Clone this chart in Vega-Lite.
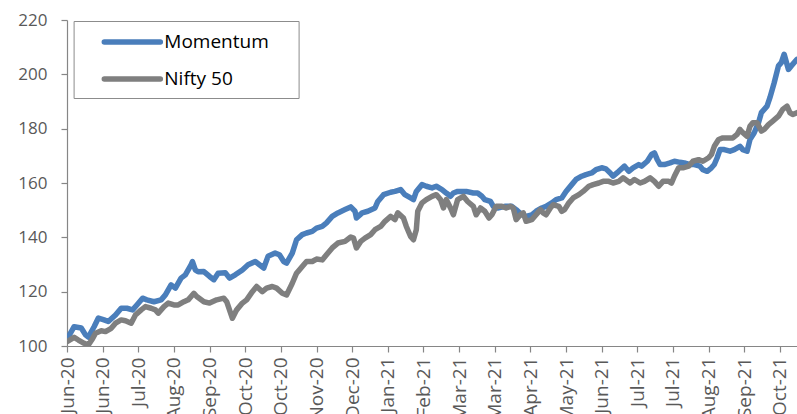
{
  "$schema": "https://vega.github.io/schema/vega-lite/v6.json",
  "width": 730,
  "height": 326,
  "autosize": {"type": "none"},
  "padding": {"left": 67, "top": 20, "right": 0, "bottom": 68},
  "background": "white",
  "config": {"view": {"stroke": null}, "font": "Open Sans"},
  "data": {"values": [
    {"series":"Momentum","date":"2020-06-01","value":102.5},
    {"series":"Momentum","date":"2020-06-06","value":107.1},
    {"series":"Momentum","date":"2020-06-11","value":106.6},
    {"series":"Momentum","date":"2020-06-14","value":104.1},
    {"series":"Momentum","date":"2020-06-16","value":103.3},
    {"series":"Momentum","date":"2020-06-20","value":107.1},
    {"series":"Momentum","date":"2020-06-23","value":110.3},
    {"series":"Momentum","date":"2020-06-27","value":109.6},
    {"series":"Momentum","date":"2020-06-30","value":109.0},
    {"series":"Momentum","date":"2020-07-05","value":111.4},
    {"series":"Momentum","date":"2020-07-09","value":113.9},
    {"series":"Momentum","date":"2020-07-13","value":113.9},
    {"series":"Momentum","date":"2020-07-17","value":113.3},
    {"series":"Momentum","date":"2020-07-20","value":115.1},
    {"series":"Momentum","date":"2020-07-24","value":117.6},
    {"series":"Momentum","date":"2020-07-27","value":117.0},
    {"series":"Momentum","date":"2020-08-01","value":116.3},
    {"series":"Momentum","date":"2020-08-06","value":117.0},
    {"series":"Momentum","date":"2020-08-09","value":118.8},
    {"series":"Momentum","date":"2020-08-13","value":122.5},
    {"series":"Momentum","date":"2020-08-16","value":121.3},
    {"series":"Momentum","date":"2020-08-20","value":125.0},
    {"series":"Momentum","date":"2020-08-23","value":126.2},
    {"series":"Momentum","date":"2020-08-27","value":129.9},
    {"series":"Momentum","date":"2020-08-28","value":131.1},
    {"series":"Momentum","date":"2020-08-30","value":128.0},
    {"series":"Momentum","date":"2020-09-01","value":127.3},
    {"series":"Momentum","date":"2020-09-05","value":127.4},
    {"series":"Momentum","date":"2020-09-09","value":125.6},
    {"series":"Momentum","date":"2020-09-12","value":124.4},
    {"series":"Momentum","date":"2020-09-15","value":126.8},
    {"series":"Momentum","date":"2020-09-20","value":127.0},
    {"series":"Momentum","date":"2020-09-23","value":125.0},
    {"series":"Momentum","date":"2020-09-27","value":126.2},
    {"series":"Momentum","date":"2020-10-02","value":128.0},
    {"series":"Momentum","date":"2020-10-06","value":129.9},
    {"series":"Momentum","date":"2020-10-11","value":131.1},
    {"series":"Momentum","date":"2020-10-14","value":129.9},
    {"series":"Momentum","date":"2020-10-17","value":128.7},
    {"series":"Momentum","date":"2020-10-20","value":133.0},
    {"series":"Momentum","date":"2020-10-25","value":134.2},
    {"series":"Momentum","date":"2020-10-28","value":133.6},
    {"series":"Momentum","date":"2020-10-31","value":131.1},
    {"series":"Momentum","date":"2020-11-02","value":130.5},
    {"series":"Momentum","date":"2020-11-06","value":134.2},
    {"series":"Momentum","date":"2020-11-09","value":139.1},
    {"series":"Momentum","date":"2020-11-13","value":141.0},
    {"series":"Momentum","date":"2020-11-16","value":141.6},
    {"series":"Momentum","date":"2020-11-20","value":142.2},
    {"series":"Momentum","date":"2020-11-23","value":143.4},
    {"series":"Momentum","date":"2020-11-27","value":144.0},
    {"series":"Momentum","date":"2020-11-30","value":145.3},
    {"series":"Momentum","date":"2020-12-04","value":147.7},
    {"series":"Momentum","date":"2020-12-08","value":149.0},
    {"series":"Momentum","date":"2020-12-13","value":150.2},
    {"series":"Momentum","date":"2020-12-17","value":151.2},
    {"series":"Momentum","date":"2020-12-20","value":149.6},
    {"series":"Momentum","date":"2020-12-21","value":147.1},
    {"series":"Momentum","date":"2020-12-25","value":149.0},
    {"series":"Momentum","date":"2020-12-29","value":149.6},
    {"series":"Momentum","date":"2021-01-03","value":150.8},
    {"series":"Momentum","date":"2021-01-05","value":153.2},
    {"series":"Momentum","date":"2021-01-09","value":155.7},
    {"series":"Momentum","date":"2021-01-14","value":156.6},
    {"series":"Momentum","date":"2021-01-17","value":156.9},
    {"series":"Momentum","date":"2021-01-21","value":157.6},
    {"series":"Momentum","date":"2021-01-24","value":155.7},
    {"series":"Momentum","date":"2021-01-28","value":154.5},
    {"series":"Momentum","date":"2021-01-30","value":153.9},
    {"series":"Momentum","date":"2021-02-01","value":156.9},
    {"series":"Momentum","date":"2021-02-05","value":159.4},
    {"series":"Momentum","date":"2021-02-08","value":158.8},
    {"series":"Momentum","date":"2021-02-12","value":158.2},
    {"series":"Momentum","date":"2021-02-15","value":158.8},
    {"series":"Momentum","date":"2021-02-19","value":157.6},
    {"series":"Momentum","date":"2021-02-22","value":156.3},
    {"series":"Momentum","date":"2021-02-25","value":155.1},
    {"series":"Momentum","date":"2021-02-27","value":156.3},
    {"series":"Momentum","date":"2021-03-02","value":156.9},
    {"series":"Momentum","date":"2021-03-08","value":156.9},
    {"series":"Momentum","date":"2021-03-13","value":156.3},
    {"series":"Momentum","date":"2021-03-16","value":156.3},
    {"series":"Momentum","date":"2021-03-19","value":155.1},
    {"series":"Momentum","date":"2021-03-21","value":153.9},
    {"series":"Momentum","date":"2021-03-25","value":153.2},
    {"series":"Momentum","date":"2021-03-27","value":151.4},
    {"series":"Momentum","date":"2021-03-30","value":150.8},
    {"series":"Momentum","date":"2021-04-04","value":151.4},
    {"series":"Momentum","date":"2021-04-09","value":151.4},
    {"series":"Momentum","date":"2021-04-12","value":150.2},
    {"series":"Momentum","date":"2021-04-16","value":148.3},
    {"series":"Momentum","date":"2021-04-19","value":147.7},
    {"series":"Momentum","date":"2021-04-23","value":148.3},
    {"series":"Momentum","date":"2021-04-26","value":149.6},
    {"series":"Momentum","date":"2021-04-30","value":150.8},
    {"series":"Momentum","date":"2021-05-03","value":151.4},
    {"series":"Momentum","date":"2021-05-07","value":152.7},
    {"series":"Momentum","date":"2021-05-10","value":153.9},
    {"series":"Momentum","date":"2021-05-14","value":154.5},
    {"series":"Momentum","date":"2021-05-17","value":156.9},
    {"series":"Momentum","date":"2021-05-21","value":159.4},
    {"series":"Momentum","date":"2021-05-24","value":161.3},
    {"series":"Momentum","date":"2021-05-28","value":162.5},
    {"series":"Momentum","date":"2021-05-31","value":163.1},
    {"series":"Momentum","date":"2021-06-04","value":163.7},
    {"series":"Momentum","date":"2021-06-07","value":164.9},
    {"series":"Momentum","date":"2021-06-11","value":165.6},
    {"series":"Momentum","date":"2021-06-14","value":165.2},
    {"series":"Momentum","date":"2021-06-17","value":163.7},
    {"series":"Momentum","date":"2021-06-19","value":162.5},
    {"series":"Momentum","date":"2021-06-23","value":164.3},
    {"series":"Momentum","date":"2021-06-27","value":166.2},
    {"series":"Momentum","date":"2021-06-30","value":164.3},
    {"series":"Momentum","date":"2021-07-03","value":165.6},
    {"series":"Momentum","date":"2021-07-07","value":166.8},
    {"series":"Momentum","date":"2021-07-09","value":166.2},
    {"series":"Momentum","date":"2021-07-13","value":168.0},
    {"series":"Momentum","date":"2021-07-16","value":170.5},
    {"series":"Momentum","date":"2021-07-18","value":171.1},
    {"series":"Momentum","date":"2021-07-20","value":168.6},
    {"series":"Momentum","date":"2021-07-22","value":166.8},
    {"series":"Momentum","date":"2021-07-25","value":166.8},
    {"series":"Momentum","date":"2021-07-29","value":167.4},
    {"series":"Momentum","date":"2021-08-01","value":168.0},
    {"series":"Momentum","date":"2021-08-05","value":167.6},
    {"series":"Momentum","date":"2021-08-08","value":167.4},
    {"series":"Momentum","date":"2021-08-12","value":166.8},
    {"series":"Momentum","date":"2021-08-15","value":166.8},
    {"series":"Momentum","date":"2021-08-19","value":166.2},
    {"series":"Momentum","date":"2021-08-21","value":164.9},
    {"series":"Momentum","date":"2021-08-24","value":164.3},
    {"series":"Momentum","date":"2021-08-27","value":165.6},
    {"series":"Momentum","date":"2021-08-29","value":166.8},
    {"series":"Momentum","date":"2021-08-31","value":169.3},
    {"series":"Momentum","date":"2021-09-02","value":172.3},
    {"series":"Momentum","date":"2021-09-05","value":172.3},
    {"series":"Momentum","date":"2021-09-09","value":171.7},
    {"series":"Momentum","date":"2021-09-12","value":172.3},
    {"series":"Momentum","date":"2021-09-16","value":173.5},
    {"series":"Momentum","date":"2021-09-18","value":172.3},
    {"series":"Momentum","date":"2021-09-21","value":171.7},
    {"series":"Momentum","date":"2021-09-23","value":176.0},
    {"series":"Momentum","date":"2021-09-26","value":178.5},
    {"series":"Momentum","date":"2021-09-29","value":182.2},
    {"series":"Momentum","date":"2021-10-01","value":185.9},
    {"series":"Momentum","date":"2021-10-05","value":188.3},
    {"series":"Momentum","date":"2021-10-07","value":191.4},
    {"series":"Momentum","date":"2021-10-08","value":193.2},
    {"series":"Momentum","date":"2021-10-10","value":196.9},
    {"series":"Momentum","date":"2021-10-13","value":203.1},
    {"series":"Momentum","date":"2021-10-15","value":204.3},
    {"series":"Momentum","date":"2021-10-17","value":207.4},
    {"series":"Momentum","date":"2021-10-20","value":201.8},
    {"series":"Momentum","date":"2021-10-22","value":203.1},
    {"series":"Momentum","date":"2021-10-26","value":205.5},
    {"series":"Nifty 50","date":"2020-06-01","value":101.6},
    {"series":"Nifty 50","date":"2020-06-06","value":103.2},
    {"series":"Nifty 50","date":"2020-06-09","value":102.2},
    {"series":"Nifty 50","date":"2020-06-13","value":101.0},
    {"series":"Nifty 50","date":"2020-06-16","value":100.4},
    {"series":"Nifty 50","date":"2020-06-19","value":102.8},
    {"series":"Nifty 50","date":"2020-06-21","value":104.7},
    {"series":"Nifty 50","date":"2020-06-25","value":105.6},
    {"series":"Nifty 50","date":"2020-06-28","value":105.3},
    {"series":"Nifty 50","date":"2020-07-02","value":106.5},
    {"series":"Nifty 50","date":"2020-07-05","value":108.4},
    {"series":"Nifty 50","date":"2020-07-09","value":109.6},
    {"series":"Nifty 50","date":"2020-07-12","value":109.3},
    {"series":"Nifty 50","date":"2020-07-16","value":108.4},
    {"series":"Nifty 50","date":"2020-07-19","value":111.4},
    {"series":"Nifty 50","date":"2020-07-23","value":113.3},
    {"series":"Nifty 50","date":"2020-07-26","value":114.5},
    {"series":"Nifty 50","date":"2020-07-30","value":113.9},
    {"series":"Nifty 50","date":"2020-08-02","value":113.3},
    {"series":"Nifty 50","date":"2020-08-04","value":112.1},
    {"series":"Nifty 50","date":"2020-08-08","value":114.5},
    {"series":"Nifty 50","date":"2020-08-11","value":115.8},
    {"series":"Nifty 50","date":"2020-08-15","value":115.1},
    {"series":"Nifty 50","date":"2020-08-18","value":115.1},
    {"series":"Nifty 50","date":"2020-08-22","value":116.3},
    {"series":"Nifty 50","date":"2020-08-25","value":117.0},
    {"series":"Nifty 50","date":"2020-08-29","value":119.4},
    {"series":"Nifty 50","date":"2020-08-31","value":118.2},
    {"series":"Nifty 50","date":"2020-09-05","value":116.3},
    {"series":"Nifty 50","date":"2020-09-09","value":115.8},
    {"series":"Nifty 50","date":"2020-09-14","value":117.0},
    {"series":"Nifty 50","date":"2020-09-19","value":117.6},
    {"series":"Nifty 50","date":"2020-09-21","value":116.3},
    {"series":"Nifty 50","date":"2020-09-25","value":110.2},
    {"series":"Nifty 50","date":"2020-09-28","value":113.3},
    {"series":"Nifty 50","date":"2020-10-02","value":115.8},
    {"series":"Nifty 50","date":"2020-10-05","value":117.0},
    {"series":"Nifty 50","date":"2020-10-09","value":120.0},
    {"series":"Nifty 50","date":"2020-10-12","value":121.9},
    {"series":"Nifty 50","date":"2020-10-16","value":120.0},
    {"series":"Nifty 50","date":"2020-10-19","value":121.3},
    {"series":"Nifty 50","date":"2020-10-23","value":121.9},
    {"series":"Nifty 50","date":"2020-10-26","value":121.3},
    {"series":"Nifty 50","date":"2020-10-30","value":119.4},
    {"series":"Nifty 50","date":"2020-11-02","value":118.8},
    {"series":"Nifty 50","date":"2020-11-06","value":123.1},
    {"series":"Nifty 50","date":"2020-11-09","value":126.8},
    {"series":"Nifty 50","date":"2020-11-13","value":129.3},
    {"series":"Nifty 50","date":"2020-11-16","value":131.1},
    {"series":"Nifty 50","date":"2020-11-20","value":131.1},
    {"series":"Nifty 50","date":"2020-11-23","value":132.0},
    {"series":"Nifty 50","date":"2020-11-27","value":131.7},
    {"series":"Nifty 50","date":"2020-11-30","value":133.6},
    {"series":"Nifty 50","date":"2020-12-04","value":136.1},
    {"series":"Nifty 50","date":"2020-12-08","value":137.9},
    {"series":"Nifty 50","date":"2020-12-13","value":138.5},
    {"series":"Nifty 50","date":"2020-12-17","value":140.1},
    {"series":"Nifty 50","date":"2020-12-19","value":139.7},
    {"series":"Nifty 50","date":"2020-12-21","value":136.1},
    {"series":"Nifty 50","date":"2020-12-24","value":138.5},
    {"series":"Nifty 50","date":"2020-12-27","value":139.7},
    {"series":"Nifty 50","date":"2020-12-31","value":141.0},
    {"series":"Nifty 50","date":"2021-01-03","value":142.8},
    {"series":"Nifty 50","date":"2021-01-07","value":144.0},
    {"series":"Nifty 50","date":"2021-01-10","value":145.9},
    {"series":"Nifty 50","date":"2021-01-14","value":147.7},
    {"series":"Nifty 50","date":"2021-01-17","value":146.5},
    {"series":"Nifty 50","date":"2021-01-19","value":149.0},
    {"series":"Nifty 50","date":"2021-01-23","value":147.1},
    {"series":"Nifty 50","date":"2021-01-25","value":144.0},
    {"series":"Nifty 50","date":"2021-01-28","value":140.3},
    {"series":"Nifty 50","date":"2021-01-30","value":139.1},
    {"series":"Nifty 50","date":"2021-02-01","value":142.8},
    {"series":"Nifty 50","date":"2021-02-02","value":149.6},
    {"series":"Nifty 50","date":"2021-02-05","value":152.7},
    {"series":"Nifty 50","date":"2021-02-08","value":153.9},
    {"series":"Nifty 50","date":"2021-02-12","value":155.1},
    {"series":"Nifty 50","date":"2021-02-15","value":155.7},
    {"series":"Nifty 50","date":"2021-02-18","value":153.9},
    {"series":"Nifty 50","date":"2021-02-20","value":150.8},
    {"series":"Nifty 50","date":"2021-02-22","value":153.9},
    {"series":"Nifty 50","date":"2021-02-25","value":150.8},
    {"series":"Nifty 50","date":"2021-02-27","value":148.3},
    {"series":"Nifty 50","date":"2021-03-02","value":153.9},
    {"series":"Nifty 50","date":"2021-03-06","value":155.1},
    {"series":"Nifty 50","date":"2021-03-09","value":153.2},
    {"series":"Nifty 50","date":"2021-03-13","value":151.4},
    {"series":"Nifty 50","date":"2021-03-15","value":148.3},
    {"series":"Nifty 50","date":"2021-03-18","value":150.8},
    {"series":"Nifty 50","date":"2021-03-21","value":149.6},
    {"series":"Nifty 50","date":"2021-03-24","value":147.1},
    {"series":"Nifty 50","date":"2021-03-26","value":148.3},
    {"series":"Nifty 50","date":"2021-03-29","value":151.4},
    {"series":"Nifty 50","date":"2021-04-02","value":151.4},
    {"series":"Nifty 50","date":"2021-04-05","value":150.8},
    {"series":"Nifty 50","date":"2021-04-08","value":151.4},
    {"series":"Nifty 50","date":"2021-04-10","value":150.8},
    {"series":"Nifty 50","date":"2021-04-12","value":146.5},
    {"series":"Nifty 50","date":"2021-04-15","value":148.3},
    {"series":"Nifty 50","date":"2021-04-17","value":149.0},
    {"series":"Nifty 50","date":"2021-04-19","value":145.9},
    {"series":"Nifty 50","date":"2021-04-23","value":146.5},
    {"series":"Nifty 50","date":"2021-04-26","value":148.3},
    {"series":"Nifty 50","date":"2021-04-29","value":150.2},
    {"series":"Nifty 50","date":"2021-05-01","value":149.0},
    {"series":"Nifty 50","date":"2021-05-03","value":148.3},
    {"series":"Nifty 50","date":"2021-05-06","value":150.8},
    {"series":"Nifty 50","date":"2021-05-08","value":152.0},
    {"series":"Nifty 50","date":"2021-05-12","value":151.4},
    {"series":"Nifty 50","date":"2021-05-14","value":149.6},
    {"series":"Nifty 50","date":"2021-05-16","value":150.2},
    {"series":"Nifty 50","date":"2021-05-19","value":152.7},
    {"series":"Nifty 50","date":"2021-05-22","value":154.5},
    {"series":"Nifty 50","date":"2021-05-26","value":155.7},
    {"series":"Nifty 50","date":"2021-05-29","value":156.9},
    {"series":"Nifty 50","date":"2021-06-02","value":158.8},
    {"series":"Nifty 50","date":"2021-06-05","value":159.4},
    {"series":"Nifty 50","date":"2021-06-09","value":160.0},
    {"series":"Nifty 50","date":"2021-06-12","value":160.6},
    {"series":"Nifty 50","date":"2021-06-16","value":160.6},
    {"series":"Nifty 50","date":"2021-06-19","value":160.0},
    {"series":"Nifty 50","date":"2021-06-23","value":160.6},
    {"series":"Nifty 50","date":"2021-06-26","value":161.9},
    {"series":"Nifty 50","date":"2021-07-01","value":160.0},
    {"series":"Nifty 50","date":"2021-07-04","value":161.3},
    {"series":"Nifty 50","date":"2021-07-08","value":160.0},
    {"series":"Nifty 50","date":"2021-07-11","value":160.6},
    {"series":"Nifty 50","date":"2021-07-15","value":161.9},
    {"series":"Nifty 50","date":"2021-07-18","value":160.6},
    {"series":"Nifty 50","date":"2021-07-21","value":158.8},
    {"series":"Nifty 50","date":"2021-07-24","value":160.6},
    {"series":"Nifty 50","date":"2021-07-28","value":160.6},
    {"series":"Nifty 50","date":"2021-07-30","value":160.0},
    {"series":"Nifty 50","date":"2021-08-01","value":162.5},
    {"series":"Nifty 50","date":"2021-08-04","value":165.6},
    {"series":"Nifty 50","date":"2021-08-07","value":165.6},
    {"series":"Nifty 50","date":"2021-08-11","value":166.2},
    {"series":"Nifty 50","date":"2021-08-14","value":168.0},
    {"series":"Nifty 50","date":"2021-08-18","value":168.6},
    {"series":"Nifty 50","date":"2021-08-21","value":168.0},
    {"series":"Nifty 50","date":"2021-08-25","value":169.3},
    {"series":"Nifty 50","date":"2021-08-27","value":170.5},
    {"series":"Nifty 50","date":"2021-08-29","value":173.5},
    {"series":"Nifty 50","date":"2021-09-01","value":176.0},
    {"series":"Nifty 50","date":"2021-09-04","value":176.6},
    {"series":"Nifty 50","date":"2021-09-08","value":176.6},
    {"series":"Nifty 50","date":"2021-09-11","value":176.6},
    {"series":"Nifty 50","date":"2021-09-14","value":177.9},
    {"series":"Nifty 50","date":"2021-09-16","value":179.7},
    {"series":"Nifty 50","date":"2021-09-18","value":178.5},
    {"series":"Nifty 50","date":"2021-09-21","value":177.2},
    {"series":"Nifty 50","date":"2021-09-23","value":180.9},
    {"series":"Nifty 50","date":"2021-09-25","value":182.2},
    {"series":"Nifty 50","date":"2021-09-28","value":182.2},
    {"series":"Nifty 50","date":"2021-10-01","value":179.1},
    {"series":"Nifty 50","date":"2021-10-03","value":179.7},
    {"series":"Nifty 50","date":"2021-10-06","value":181.5},
    {"series":"Nifty 50","date":"2021-10-09","value":182.8},
    {"series":"Nifty 50","date":"2021-10-13","value":184.6},
    {"series":"Nifty 50","date":"2021-10-16","value":187.1},
    {"series":"Nifty 50","date":"2021-10-19","value":188.3},
    {"series":"Nifty 50","date":"2021-10-21","value":185.9},
    {"series":"Nifty 50","date":"2021-10-23","value":185.2},
    {"series":"Nifty 50","date":"2021-10-26","value":185.9}
  ]},
  "mark": {"type": "line", "strokeWidth": 5.5, "strokeCap": "round", "strokeJoin": "round", "clip": true},
  "encoding": {
    "x": {
      "field": "date", "type": "temporal",
      "scale": {"type": "utc", "domain": [{"year": 2020, "month": 6, "date": 1, "utc": true}, {"year": 2021, "month": 10, "date": 26, "utc": true}], "nice": false},
      "axis": {
        "title": null, "labelExpr": "utcFormat(datum.value, '%b-%y')", "grid": false,
        "values": [
          {"year": 2020, "month": 6, "date": 1, "utc": true},
          {"year": 2020, "month": 6, "date": 26, "utc": true},
          {"year": 2020, "month": 7, "date": 21, "utc": true},
          {"year": 2020, "month": 8, "date": 15, "utc": true},
          {"year": 2020, "month": 9, "date": 9, "utc": true},
          {"year": 2020, "month": 10, "date": 4, "utc": true},
          {"year": 2020, "month": 10, "date": 29, "utc": true},
          {"year": 2020, "month": 11, "date": 23, "utc": true},
          {"year": 2020, "month": 12, "date": 18, "utc": true},
          {"year": 2021, "month": 1, "date": 12, "utc": true},
          {"year": 2021, "month": 2, "date": 6, "utc": true},
          {"year": 2021, "month": 3, "date": 3, "utc": true},
          {"year": 2021, "month": 3, "date": 28, "utc": true},
          {"year": 2021, "month": 4, "date": 22, "utc": true},
          {"year": 2021, "month": 5, "date": 17, "utc": true},
          {"year": 2021, "month": 6, "date": 11, "utc": true},
          {"year": 2021, "month": 7, "date": 6, "utc": true},
          {"year": 2021, "month": 7, "date": 31, "utc": true},
          {"year": 2021, "month": 8, "date": 25, "utc": true},
          {"year": 2021, "month": 9, "date": 19, "utc": true},
          {"year": 2021, "month": 10, "date": 14, "utc": true}
        ],
        "labelAngle": -90, "labelFontSize": 19, "labelColor": "#595959", "labelPadding": 5,
        "labelOverlap": false, "labelFlush": false, "labelBound": false,
        "domainColor": "#868686", "domainWidth": 1.2, "tickColor": "#868686", "tickSize": 6, "tickWidth": 1.2
      }
    },
    "y": {
      "field": "value", "type": "quantitative",
      "scale": {"domain": [100, 220], "nice": false, "zero": false},
      "axis": {
        "title": null, "grid": false, "values": [100, 120, 140, 160, 180, 200, 220],
        "labelFontSize": 17, "labelColor": "#595959", "labelPadding": 14,
        "domainColor": "#868686", "domainWidth": 1.2, "tickColor": "#868686", "tickSize": 6, "tickWidth": 1.2
      }
    },
    "color": {
      "field": "series", "type": "nominal",
      "scale": {"domain": ["Momentum", "Nifty 50"], "range": ["#4a7ebb", "#7f7f7f"]},
      "legend": {
        "title": null, "orient": "none", "legendX": 6.6, "legendY": 1,
        "direction": "vertical",
        "symbolType": "M-2.8,0H2.8M14.7,0",
        "symbolSize": 400, "symbolStrokeWidth": 5.5, "symbolOffset": 37.7,
        "labelOffset": 19, "labelFontSize": 19, "labelColor": "#000000", "labelLimit": 300,
        "rowPadding": 13, "padding": 8,
        "strokeColor": "#8c8c8c", "fillColor": "#ffffff",
        "encode": {"symbols": {"update": {"strokeCap": {"value": "round"}}}}
      }
    }
  }
}
